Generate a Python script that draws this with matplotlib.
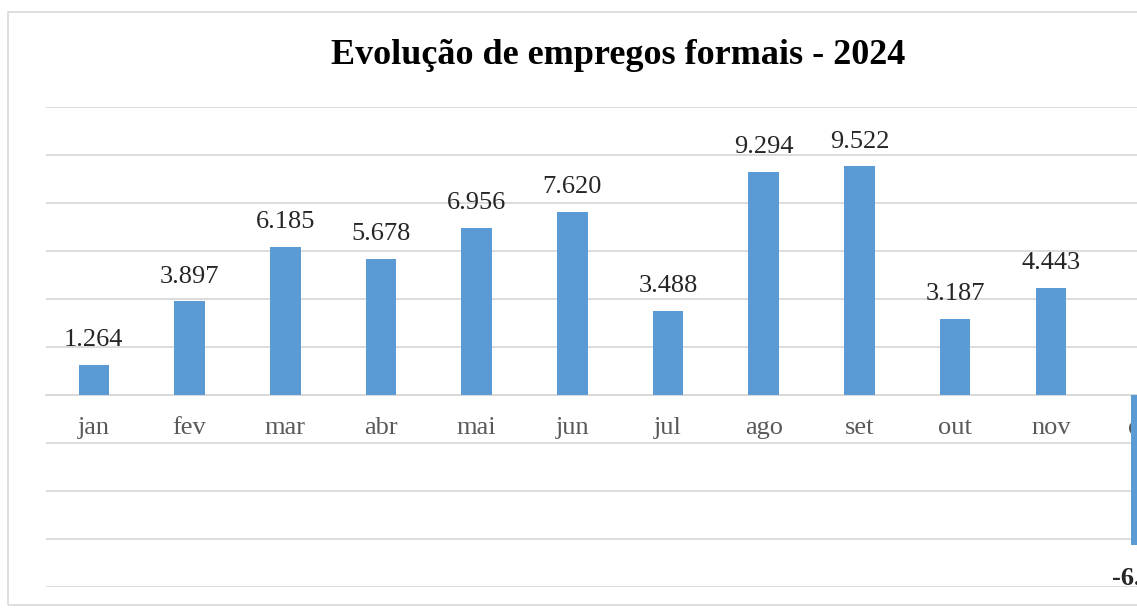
import matplotlib.pyplot as plt
from matplotlib.patches import Rectangle

# Data
meses = ['jan', 'fev', 'mar', 'abr', 'mai', 'jun', 'jul', 'ago', 'set', 'out', 'nov', 'dez']
saldo = [1264, 3897, 6185, 5678, 6956, 7620, 3488, 9294, 9522, 3187, 4443, -6250]
titulo = 'Evolução de empregos formais - 2024'

W, H = 1137, 612
fig = plt.figure(figsize=(W / 100, H / 100), dpi=100)
fig.patch.set_facecolor('white')

# light frame around chart area (chart is cropped on the right)
fig.add_artist(Rectangle((8 / W, 1 - 605 / H), 1.2, (605 - 12) / H,
                         transform=fig.transFigure, fill=False,
                         edgecolor='#d9d9d9', linewidth=1.2))

# axes extend past the right edge of the figure, like the cropped original
left_px, slot = 46, 95.7
ax = fig.add_axes([left_px / W, (H - 587) / H, slot * 12 / W, 480 / H])

x = list(range(len(meses)))
ax.bar(x, saldo, width=0.32, color='#5b9bd5', zorder=3)
ax.set_xlim(-0.5, 11.5)
ax.set_ylim(-8000, 12000)

ax.set_yticks(range(-8000, 12001, 2000))
ax.set_yticklabels([])
ax.tick_params(axis='y', length=0)
ax.grid(axis='y', color='#d9d9d9', linewidth=1.3, zorder=0)
for s in ['top', 'right', 'left']:
    ax.spines[s].set_visible(False)
ax.spines['bottom'].set_position(('data', 0))
ax.spines['bottom'].set_color('#d9d9d9')
ax.spines['bottom'].set_linewidth(1.3)

ax.set_xticks(x)
ax.set_xticklabels(meses, fontfamily='Liberation Serif', fontsize=19, color='#595959')
ax.tick_params(axis='x', length=0, pad=16)

# Value labels
for xi, v in zip(x, saldo):
    rotulo = f'{v:,}'.replace(',', '.')
    if v >= 0:
        ax.annotate(rotulo, (xi, v), xytext=(0, 10), textcoords='offset points',
                    ha='center', va='bottom', fontfamily='Liberation Serif',
                    fontsize=19, color='#262626')
    else:
        ax.annotate(rotulo, (xi, v), xytext=(0, -16), textcoords='offset points',
                    ha='center', va='top', fontfamily='Liberation Serif',
                    fontsize=19, fontweight='bold', color='#262626')

fig.text(618 / W, 1 - 55 / H, titulo, ha='center', va='center',
         fontfamily='Liberation Serif', fontsize=26, fontweight='bold', color='black')

fig.savefig('out.png', dpi=100)
